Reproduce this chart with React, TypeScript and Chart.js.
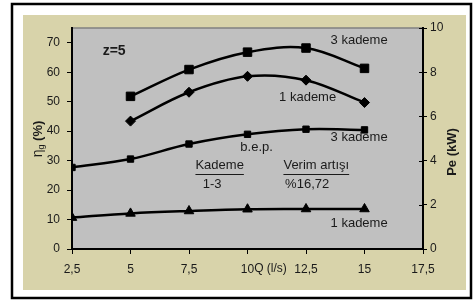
import React, { useEffect, useRef } from 'react';
import { Chart, registerables } from 'chart.js';

Chart.register(...registerables);

const qAll = [2.5, 5, 7.5, 10, 12.5, 15];
const qEff = [5, 7.5, 10, 12.5, 15];
const eff3 = [51.8, 60.9, 66.8, 68.2, 61.3];
const eff1 = [43.4, 53.2, 58.6, 57.3, 49.7];
const pe3 = [3.69, 4.07, 4.75, 5.19, 5.42, 5.39];
const pe1 = [1.42, 1.61, 1.72, 1.8, 1.81, 1.81];
const xTicks = [2.5, 5, 7.5, 10, 12.5, 15, 17.5];
const yTicks = [0, 10, 20, 30, 40, 50, 60, 70];
const y1Ticks = [0, 2, 4, 6, 8, 10];

const labels = [
  { text: 'z=5', x: 4.3, y: 67.0, bold: true, underline: false },
  { text: '3 kademe', x: 14.77, y: 70.8, bold: false, underline: false },
  { text: '1 kademe', x: 12.57, y: 51.6, bold: false, underline: false },
  { text: '3 kademe', x: 14.77, y: 37.9, bold: false, underline: false },
  { text: 'b.e.p.', x: 10.39, y: 34.5, bold: false, underline: false },
  { text: 'Kademe', x: 8.81, y: 28.3, bold: false, underline: true },
  { text: 'Verim artışı', x: 12.94, y: 28.3, bold: false, underline: true },
  { text: '1-3', x: 8.49, y: 21.8, bold: false, underline: false },
  { text: '%16,72', x: 12.55, y: 21.8, bold: false, underline: false },
  { text: '1 kademe', x: 14.77, y: 8.8, bold: false, underline: false },
];

const FONT = '"Liberation Sans", Arial, sans-serif';
const TXT = '#1a1a1a';

const decorPlugin = {
  id: 'decor',
  beforeDraw(chart: any) {
    const { ctx, chartArea: a } = chart;
    ctx.save();
    ctx.fillStyle = '#ffffff';
    ctx.fillRect(0, 0, chart.width, chart.height);
    ctx.fillStyle = '#D8D3AA';
    ctx.fillRect(23, 15, 443, 275);
    ctx.fillStyle = '#C0C0C0';
    ctx.fillRect(a.left, a.top, a.right - a.left, a.bottom - a.top);
    ctx.strokeStyle = '#808080';
    ctx.lineWidth = 1.5;
    ctx.beginPath();
    ctx.moveTo(a.left, a.top);
    ctx.lineTo(a.right, a.top);
    ctx.stroke();
    ctx.restore();
  },
  afterDraw(chart: any) {
    const { ctx, chartArea: a } = chart;
    const xs = chart.scales.x;
    const ys = chart.scales.y;
    const y1 = chart.scales.y1;
    ctx.save();
    ctx.strokeStyle = '#000';
    ctx.lineWidth = 1;
    y1Ticks.forEach((t) => {
      const py = Math.round(y1.getPixelForValue(t)) + 0.5;
      ctx.beginPath();
      ctx.moveTo(a.right - 4, py);
      ctx.lineTo(a.right, py);
      ctx.stroke();
    });
    ctx.textBaseline = 'middle';
    ctx.textAlign = 'center';
    labels.forEach((l) => {
      ctx.font = (l.bold ? 'bold 14px ' : '13px ') + FONT;
      ctx.fillStyle = TXT;
      const px = xs.getPixelForValue(l.x);
      const py = ys.getPixelForValue(l.y);
      ctx.fillText(l.text, px, py);
      if (l.underline) {
        const w = ctx.measureText(l.text).width;
        ctx.strokeStyle = TXT;
        ctx.lineWidth = 1;
        ctx.beginPath();
        ctx.moveTo(px - w / 2, Math.round(py + 8) + 0.5);
        ctx.lineTo(px + w / 2, Math.round(py + 8) + 0.5);
        ctx.stroke();
      }
    });
    ctx.font = '12px ' + FONT;
    const w10 = ctx.measureText('10').width;
    ctx.textAlign = 'left';
    ctx.fillStyle = TXT;
    ctx.fillText('Q (l/s)', xs.getPixelForValue(10) + w10 / 2, a.bottom + 20);
    ctx.save();
    ctx.translate(38, 139);
    ctx.rotate(-Math.PI / 2);
    ctx.textAlign = 'left';
    ctx.textBaseline = 'middle';
    const f1 = '14px ' + FONT;
    const f2 = '9px ' + FONT;
    const f3 = 'bold 13px ' + FONT;
    ctx.font = f1;
    const wa = ctx.measureText('η').width;
    ctx.font = f2;
    const wb = ctx.measureText('g').width;
    ctx.font = f3;
    const wc = ctx.measureText(' (%)').width;
    let sx = -(wa + wb + wc) / 2;
    ctx.font = f1;
    ctx.fillText('η', sx, 0);
    sx += wa;
    ctx.font = f2;
    ctx.fillText('g', sx, 4);
    sx += wb;
    ctx.font = f3;
    ctx.fillText(' (%)', sx, 0);
    ctx.restore();
    ctx.save();
    ctx.translate(452, 152);
    ctx.rotate(-Math.PI / 2);
    ctx.textAlign = 'center';
    ctx.textBaseline = 'middle';
    ctx.font = 'bold 13px ' + FONT;
    ctx.fillStyle = TXT;
    ctx.fillText('Pe (kW)', 0, 0);
    ctx.restore();
    // outer frame drawn last
    ctx.strokeStyle = '#000';
    ctx.lineWidth = 2.5;
    ctx.strokeRect(12, 4, 459, 294);
    ctx.restore();
  },
};

const fmt = (v: number) => String(v).replace('.', ',');

export default function App() {
  const ref = useRef<HTMLCanvasElement | null>(null);
  useEffect(() => {
    if (!ref.current) return;
    const line = {
      borderColor: '#000',
      backgroundColor: '#000',
      pointBackgroundColor: '#000',
      pointBorderColor: '#000',
      borderWidth: 2.5,
      pointBorderWidth: 1,
      tension: 0.35,
      fill: false,
    };
    const chart = new Chart(ref.current, {
      type: 'line',
      data: {
        datasets: [
          {
            ...line,
            label: '3 kademe η',
            data: qEff.map((x, i) => ({ x, y: eff3[i] })),
            yAxisID: 'y',
            pointStyle: 'rect',
            pointRadius: 6,
          },
          {
            ...line,
            label: '1 kademe η',
            data: qEff.map((x, i) => ({ x, y: eff1[i] })),
            yAxisID: 'y',
            pointStyle: 'rectRot',
            pointRadius: 5,
          },
          {
            ...line,
            label: '3 kademe Pe',
            data: qAll.map((x, i) => ({ x, y: pe3[i] })),
            yAxisID: 'y1',
            pointStyle: 'rect',
            pointRadius: 4.5,
          },
          {
            ...line,
            label: '1 kademe Pe',
            data: qAll.map((x, i) => ({ x, y: pe1[i] })),
            yAxisID: 'y1',
            pointStyle: 'triangle',
            pointRadius: 5.5,
          },
        ],
      },
      options: {
        animation: false,
        responsive: false,
        devicePixelRatio: 1,
        layout: { padding: { top: 28, left: 0, right: 0, bottom: 0 } },
        plugins: { legend: { display: false }, tooltip: { enabled: false } },
        scales: {
          x: {
            type: 'linear',
            min: 2.5,
            max: 17.5,
            afterBuildTicks: (s: any) => {
              s.ticks = xTicks.map((v) => ({ value: v }));
            },
            afterFit: (s: any) => {
              s.height = 52;
            },
            grid: { drawOnChartArea: false, drawTicks: true, tickLength: 5, color: '#000' },
            border: { display: true, color: '#000', width: 2 },
            ticks: {
              padding: 8,
              color: TXT,
              font: { family: FONT, size: 12 },
              maxRotation: 0,
              autoSkip: false,
              callback: (v: any) => fmt(v),
            },
          },
          y: {
            type: 'linear',
            position: 'left',
            min: 0,
            max: 75,
            afterBuildTicks: (s: any) => {
              s.ticks = yTicks.map((v) => ({ value: v }));
            },
            afterFit: (s: any) => {
              s.width = 72;
            },
            grid: { drawOnChartArea: false, drawTicks: true, tickLength: 5, color: '#000' },
            border: { display: true, color: '#000', width: 2 },
            ticks: {
              padding: 7,
              color: TXT,
              font: { family: FONT, size: 12 },
              callback: (v: any) => fmt(v),
            },
          },
          y1: {
            type: 'linear',
            position: 'right',
            min: 0,
            max: 10,
            afterBuildTicks: (s: any) => {
              s.ticks = y1Ticks.map((v) => ({ value: v }));
            },
            afterFit: (s: any) => {
              s.width = 51;
            },
            grid: { drawOnChartArea: false, drawTicks: true, tickLength: 4, color: '#000' },
            border: { display: true, color: '#000', width: 2 },
            ticks: {
              padding: 3,
              color: TXT,
              font: { family: FONT, size: 12 },
              callback: (v: any) => fmt(v),
            },
          },
        },
      },
      plugins: [decorPlugin],
    } as any);
    return () => chart.destroy();
  }, []);
  return (
    <div style={{ position: 'fixed', left: 0, top: 0, width: 474, height: 301 }}>
      <canvas ref={ref} width={474} height={301} style={{ display: 'block', width: 474, height: 301 }} />
    </div>
  );
}
